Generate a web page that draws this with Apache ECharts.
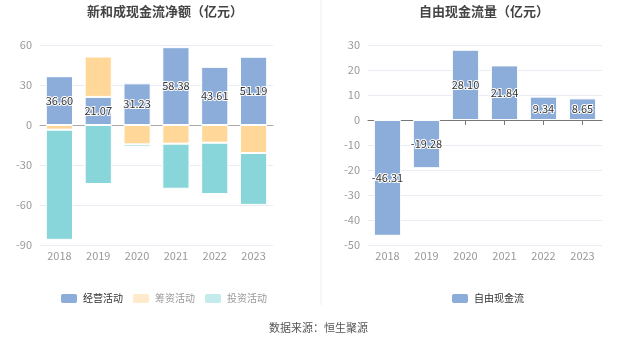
<!DOCTYPE html>
<html><head><meta charset="utf-8">
<script src="https://cdn.jsdelivr.net/npm/echarts@6/dist/echarts.min.js"></script>
<style>html,body{margin:0;padding:0;background:#fff}#c{width:637px;height:344px}</style>
</head><body><div id="c"></div>
<script>
const years = ['2018','2019','2020','2021','2022','2023'];
const operating = [36.60, 21.07, 31.23, 58.38, 43.61, 51.19];
const financing = [-3.5, 30.3, -14.5, -14.0, -13.3, -21.0];
const investing = [-82.6, -44.3, -1.8, -33.8, -38.5, -38.9];
const freeCashFlow = [-46.31, -19.28, 28.10, 21.84, 9.34, 8.65];
const leftTicks = {min: -90, max: 60, interval: 30};
const rightTicks = {min: -50, max: 30, interval: 10};

const BLUE = '#8CACDA', ORANGE = '#FFD899', TEAL = '#88D6D9';
const chart = echarts.init(document.getElementById('c'), null, {renderer: 'canvas'});
const axisLabel = {color: '#999', fontSize: 11, fontFamily: 'Noto Sans CJK SC'};
const splitLine = {lineStyle: {color: '#E9ECF3'}};
const barLabel = {show: true, position: 'inside', color: '#333', fontSize: 11, textBorderColor: '#fff', textBorderWidth: 2,
  fontFamily: 'Noto Sans CJK SC', formatter: p => p.value.toFixed(2)};
const itemStyle = c => ({color: c, borderColor: '#fff', borderWidth: 1});

chart.setOption({
  animation: false,
  textStyle: {fontFamily: 'Noto Sans CJK SC'},
  title: [
    {text: '新和成现金流净额（亿元）', left: 160, top: 0, textAlign: 'center', textStyle: {fontSize: 13, fontWeight: 'bold', color: '#444'}},
    {text: '自由现金流量（亿元）', left: 479, top: 0, textAlign: 'center', textStyle: {fontSize: 13, fontWeight: 'bold', color: '#444'}}
  ],
  legend: [
    {left: 54, top: 287, itemWidth: 18, itemHeight: 11, itemGap: 8, textStyle: {fontSize: 10, color: '#333'},
      data: [
        {name: '经营活动'},
        {name: '筹资活动', itemStyle: {color: '#FFEBCB'}, textStyle: {color: '#999'}},
        {name: '投资活动', itemStyle: {color: '#C3EBEC'}, textStyle: {color: '#999'}}
      ]},
    {left: 445, top: 287, itemWidth: 18, itemHeight: 11, textStyle: {fontSize: 10, color: '#333'}, data: ['自由现金流']}
  ],
  graphic: [
    {type: 'line', shape: {x1: 321, y1: 0, x2: 321, y2: 305}, style: {stroke: '#eee', lineWidth: 1}},
    {type: 'text', left: 'center', top: 322, style: {text: '数据来源：恒生聚源', fill: '#555', fontSize: 11, fontFamily: 'Noto Sans CJK SC'}}
  ],
  grid: [
    {left: 40, top: 45, width: 233, height: 200},
    {left: 368, top: 45, width: 234, height: 200}
  ],
  xAxis: [
    {type: 'category', gridIndex: 0, data: years, axisTick: {show: false},
      axisLine: {onZero: true, lineStyle: {color: '#aaa'}}, axisLabel: Object.assign({}, axisLabel, {margin: 5})},
    {type: 'category', gridIndex: 1, data: years, axisTick: {show: true, alignWithLabel: true, lineStyle: {color: '#777'}},
      axisLine: {onZero: true, lineStyle: {color: '#777'}}, axisLabel: Object.assign({}, axisLabel, {margin: 5})}
  ],
  yAxis: [
    Object.assign({type: 'value', gridIndex: 0, axisLabel, splitLine, axisLine: {show: false}, axisTick: {show: false}}, leftTicks),
    Object.assign({type: 'value', gridIndex: 1, axisLabel, splitLine, axisLine: {show: false}, axisTick: {show: false}}, rightTicks)
  ],
  series: [
    {name: '经营活动', type: 'bar', stack: 'a', xAxisIndex: 0, yAxisIndex: 0, barWidth: '70%', data: operating,
      itemStyle: itemStyle(BLUE), label: barLabel, z: 3},
    {name: '筹资活动', type: 'bar', stack: 'a', xAxisIndex: 0, yAxisIndex: 0, barWidth: '70%', data: financing,
      itemStyle: itemStyle(ORANGE)},
    {name: '投资活动', type: 'bar', stack: 'a', xAxisIndex: 0, yAxisIndex: 0, barWidth: '70%', data: investing,
      itemStyle: itemStyle(TEAL)},
    {name: '自由现金流', type: 'bar', xAxisIndex: 1, yAxisIndex: 1, barWidth: '70%', data: freeCashFlow,
      itemStyle: itemStyle(BLUE), label: barLabel}
  ]
});
</script></body></html>
